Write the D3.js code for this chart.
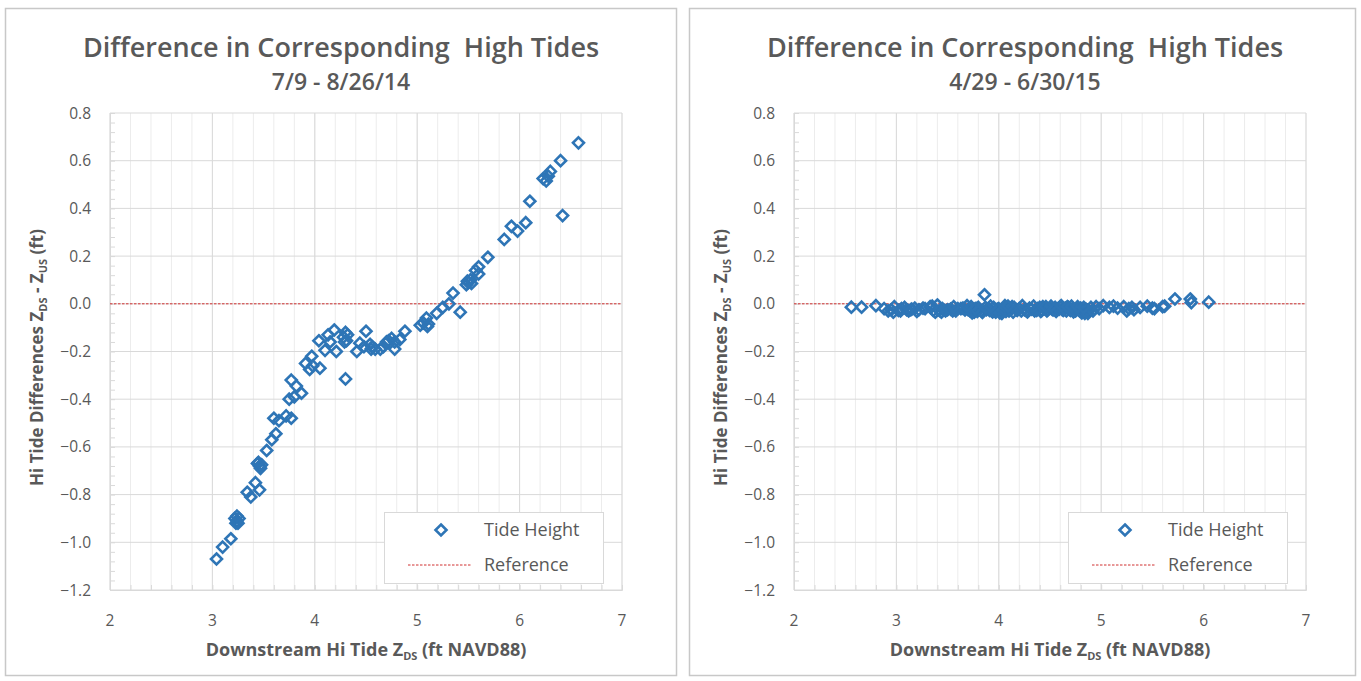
<!DOCTYPE html>
<html>
<head>
<meta charset="utf-8">
<script src="https://cdn.jsdelivr.net/npm/d3@7"></script>
<style>
  body { margin: 0; background: #fff; }
  svg { display: block; font-family: "Open Sans", "Noto Sans", sans-serif; }
</style>
</head>
<body>
<svg id="svg" width="1361" height="681"></svg>
<script>
// chart text
const titleText = 'Difference in Corresponding  High Tides';
const subtitles = ['7/9 - 8/26/14', '4/29 - 6/30/15'];
const xTicks = [2, 3, 4, 5, 6, 7];
const yTicks = [0.8, 0.6, 0.4, 0.2, 0.0, -0.2, -0.4, -0.6, -0.8, -1.0, -1.2];
const legendLabels = ['Tide Height', 'Reference'];

// 2014 survey: downstream hi tide vs difference
const x2014 = [3.04, 3.10, 3.18, 3.22, 3.24, 3.25, 3.23, 3.26, 3.24, 3.34, 3.375, 3.42, 3.46,
  3.44, 3.46, 3.47, 3.45, 3.48, 3.53, 3.58, 3.62, 3.60, 3.65, 3.72, 3.77, 3.75, 3.82, 3.87,
  3.77, 3.80, 3.91, 3.97, 3.95, 4.05, 3.98, 4.04, 4.10, 4.13, 4.19, 4.21, 4.15, 4.28, 4.30,
  4.31, 4.29, 4.32, 4.30, 4.41, 4.44, 4.50, 4.48, 4.54, 4.55, 4.56, 4.59, 4.64, 4.67, 4.70,
  4.72, 4.75, 4.78, 4.83, 4.88, 4.78, 5.03, 5.06, 5.09, 5.10, 5.11, 5.19, 5.25, 5.31, 5.35,
  5.42, 5.48, 5.50, 5.52, 5.53, 5.49, 5.57, 5.60, 5.60, 5.69, 5.85, 5.92, 5.98, 6.06, 6.10,
  6.23, 6.26, 6.28, 6.30, 6.40, 6.42, 6.575];
const y2014 = [-1.07, -1.02, -0.985, -0.90, -0.91, -0.92, -0.92, -0.90, -0.89, -0.79, -0.81, -0.75, -0.78,
  -0.67, -0.68, -0.69, -0.665, -0.675, -0.615, -0.57, -0.545, -0.48, -0.49, -0.47, -0.48, -0.40, -0.345, -0.375,
  -0.32, -0.39, -0.25, -0.22, -0.275, -0.27, -0.26, -0.155, -0.195, -0.13, -0.11, -0.20, -0.16, -0.14, -0.12,
  -0.155, -0.16, -0.13, -0.315, -0.20, -0.165, -0.115, -0.18, -0.17, -0.19, -0.18, -0.19, -0.19, -0.18, -0.16,
  -0.155, -0.145, -0.19, -0.15, -0.115, -0.16, -0.09, -0.08, -0.06, -0.095, -0.085, -0.04, -0.015, 0.0, 0.045,
  -0.035, 0.08, 0.09, 0.10, 0.085, 0.095, 0.14, 0.155, 0.125, 0.195, 0.27, 0.325, 0.305, 0.34, 0.43,
  0.525, 0.515, 0.535, 0.555, 0.60, 0.37, 0.675];

// 2015 survey
const x2015 = [2.56, 2.66, 2.80, 2.88, 2.92, 2.95, 2.98, 3.02, 3.05, 3.08, 3.12, 3.15, 3.18, 3.22,
  3.28, 3.33, 3.38, 3.40, 3.42, 3.45, 3.50, 3.55, 3.60, 3.65, 3.70, 3.72, 3.75, 3.78, 3.80,
  3.83, 3.86, 3.88, 3.90, 3.93, 3.95, 3.98, 4.00, 4.02, 4.05, 4.08, 4.10, 4.12, 4.15, 4.18,
  4.20, 4.25, 4.30, 4.35, 4.38, 4.40, 4.42, 4.45, 4.48, 4.50, 4.52, 4.55, 4.58, 4.60, 4.62,
  4.65, 4.68, 4.70, 4.72, 4.75, 4.78, 4.80, 4.82, 4.85, 4.88, 4.90, 4.95, 5.02, 5.12, 5.22,
  5.27, 5.30, 5.32, 5.45, 5.50, 5.60, 5.72, 5.87, 5.88, 6.05, 3.76, 3.97, 4.03, 4.27, 4.57,
  4.84, 3.10, 3.48, 3.63,
  2.97, 3.04, 3.14, 3.20, 3.26, 3.36, 3.44, 3.53, 3.58, 3.67, 3.74, 3.79, 3.81, 3.84, 3.91,
  3.94, 3.99, 4.01, 4.04, 4.07, 4.11, 4.14, 4.17, 4.22, 4.28, 4.32, 4.37, 4.41, 4.44, 4.47,
  4.53, 4.56, 4.59, 4.63, 4.66, 4.69, 4.73, 4.76, 4.79, 4.81, 4.86, 4.87, 4.92, 4.98, 5.08,
  5.16, 5.25, 5.38, 5.52, 5.62, 3.73, 3.77, 3.87, 3.92, 4.06, 4.13, 4.23, 4.34, 4.43, 4.51,
  4.61, 4.67, 4.71, 4.77, 4.83, 3.35, 3.56, 3.69, 4.09, 4.46];
const y2015 = [-0.014, -0.014, -0.008, -0.02, -0.03, -0.025, -0.012, -0.028, -0.02, -0.015, -0.03, -0.022, -0.018, -0.025,
  -0.02, -0.012, -0.035, -0.005, -0.028, -0.02, -0.025, -0.03, -0.02, -0.018, -0.025, -0.03, -0.028, -0.02, -0.015,
  -0.03, 0.038, -0.025, -0.02, -0.03, -0.015, -0.025, -0.02, -0.03, -0.018, -0.025, -0.03, -0.022, -0.015, -0.028,
  -0.02, -0.025, -0.018, -0.03, -0.02, -0.015, -0.028, -0.02, -0.025, -0.018, -0.022, -0.015, -0.02, -0.012, -0.025,
  -0.018, -0.015, -0.028, -0.02, -0.03, -0.025, -0.018, -0.035, -0.022, -0.028, -0.015, -0.012, -0.008, -0.01, -0.012,
  -0.02, -0.015, -0.025, -0.01, -0.018, -0.012, 0.02, 0.02, 0.005, 0.007, -0.035, -0.035, -0.04, -0.03, -0.022,
  -0.04, -0.025, -0.03, -0.02,
  -0.035, -0.03, -0.025, -0.032, -0.018, -0.028, -0.035, -0.022, -0.03, -0.026, -0.038, -0.032, -0.024, -0.036, -0.028,
  -0.034, -0.022, -0.038, -0.026, -0.032, -0.02, -0.035, -0.025, -0.03, -0.034, -0.022, -0.028, -0.032, -0.02, -0.03,
  -0.026, -0.032, -0.022, -0.028, -0.03, -0.024, -0.034, -0.02, -0.03, -0.038, -0.026, -0.04, -0.03, -0.02, -0.015,
  -0.018, -0.03, -0.015, -0.02, -0.01, -0.012, -0.02, -0.015, -0.01, -0.008, -0.012, -0.008, -0.01, -0.012, -0.01,
  -0.008, -0.012, -0.01, -0.012, -0.015, -0.01, -0.012, -0.008, -0.01, -0.012];

const blue = '#2e75b6';
const red = '#d03030';
const textGray = '#595959';
const gridGray = '#d9d9d9';

const svg = d3.select('#svg');

// panel frames
svg.append('rect').attr('x', 5.5).attr('y', 8.5).attr('width', 671).attr('height', 667)
  .attr('fill', '#fff').attr('stroke', '#c8c8c8').attr('stroke-width', 1.5);
svg.append('rect').attr('x', 689.5).attr('y', 8.5).attr('width', 666).attr('height', 667)
  .attr('fill', '#fff').attr('stroke', '#c8c8c8').attr('stroke-width', 1.5);

function diamond(r) {
  return `M0,${-r}L${r},0L0,${r}L${-r},0Z`;
}

function drawChart(left, xs, ys, subtitle) {
  const top = 113, width = 512, height = 477;
  const g = svg.append('g').attr('transform', `translate(${left},${top})`);

  const xScale = d3.scaleLinear().domain([2, 7]).range([0, width]);
  const yScale = d3.scaleLinear().domain([-1.2, 0.8]).range([height, 0]);

  // minor vertical grid
  g.append('g').selectAll('line')
    .data(d3.range(2, 7.001, 0.2))
    .enter().append('line')
    .attr('x1', d => xScale(d)).attr('x2', d => xScale(d))
    .attr('y1', 0).attr('y2', height)
    .attr('stroke', '#ececec').attr('stroke-width', 1);

  // major grid
  g.append('g').selectAll('line')
    .data(xTicks)
    .enter().append('line')
    .attr('x1', d => xScale(d)).attr('x2', d => xScale(d))
    .attr('y1', 0).attr('y2', height)
    .attr('stroke', gridGray).attr('stroke-width', 1);
  g.append('g').selectAll('line')
    .data(yTicks)
    .enter().append('line')
    .attr('x1', 0).attr('x2', width)
    .attr('y1', d => yScale(d)).attr('y2', d => yScale(d))
    .attr('stroke', gridGray).attr('stroke-width', 1);

  // Y AXIS (minor inside ticks)
  const yAxis = g.append('g')
    .call(d3.axisRight(yScale).tickValues(d3.range(-1.2, 0.8001, 0.04)).tickSize(5).tickFormat(''));
  yAxis.select('.domain').attr('stroke', gridGray);
  yAxis.selectAll('line').attr('stroke', gridGray);

  const xAxis = g.append('g')
    .attr('transform', `translate(0,${height})`)
    .call(d3.axisTop(xScale).tickValues(d3.range(2, 7.001, 0.2)).tickSize(5).tickFormat(''));
  xAxis.select('.domain').attr('stroke', gridGray);
  xAxis.selectAll('line').attr('stroke', gridGray);

  // tick labels
  g.append('g').selectAll('text')
    .data(yTicks)
    .enter().append('text')
    .attr('x', -19).attr('y', d => yScale(d) + 5.5)
    .attr('text-anchor', 'end')
    .attr('font-size', 15.5).attr('fill', textGray)
    .text(d => d3.format('.1f')(d));
  g.append('g').selectAll('text')
    .data(xTicks)
    .enter().append('text')
    .attr('x', d => xScale(d)).attr('y', height + 36)
    .attr('text-anchor', 'middle')
    .attr('font-size', 15.5).attr('fill', textGray)
    .text(d => d);

  // reference line
  g.append('line')
    .attr('x1', xScale(2)).attr('x2', xScale(7))
    .attr('y1', yScale(0)).attr('y2', yScale(0))
    .attr('stroke', red).attr('stroke-width', 1).attr('stroke-dasharray', '2.5,1.5');

  // points
  g.append('g').selectAll('path')
    .data(xs.map((x, i) => ({ x: x, y: ys[i] })))
    .enter().append('path')
    .attr('transform', d => `translate(${xScale(d.x)},${yScale(d.y)})`)
    .attr('d', diamond(5.5))
    .attr('fill', 'none').attr('stroke', blue).attr('stroke-width', 2.6);

  // titles
  g.append('text')
    .attr('x', 231).attr('y', -56)
    .attr('text-anchor', 'middle')
    .attr('font-size', 27).attr('font-weight', 600).attr('fill', textGray)
    .attr('xml:space', 'preserve')
    .text(titleText);
  g.append('text')
    .attr('x', 231).attr('y', -23)
    .attr('text-anchor', 'middle')
    .attr('font-size', 23).attr('font-weight', 600).attr('fill', textGray)
    .text(subtitle);

  // x axis label
  const xl = g.append('text')
    .attr('x', 256).attr('y', height + 66)
    .attr('text-anchor', 'middle')
    .attr('font-size', 18).attr('font-weight', 'bold').attr('fill', textGray);
  xl.append('tspan').text('Downstream Hi Tide Z');
  xl.append('tspan').attr('font-size', 11).attr('dy', 4).text('DS');
  xl.append('tspan').attr('dy', -4).text(' (ft NAVD88)');

  // y axis label
  const yl = g.append('text')
    .attr('transform', `translate(-67,${height / 2 + 6}) rotate(-90)`)
    .attr('text-anchor', 'middle')
    .attr('font-size', 17).attr('font-weight', 'bold').attr('fill', textGray);
  yl.append('tspan').text('Hi Tide Differences Z');
  yl.append('tspan').attr('font-size', 11).attr('dy', 4).text('DS');
  yl.append('tspan').attr('dy', -4).text(' - Z');
  yl.append('tspan').attr('font-size', 11).attr('dy', 4).text('US');
  yl.append('tspan').attr('dy', -4).text('  (ft)');

  // legend
  const lg = g.append('g').attr('transform', `translate(274,${399})`);
  lg.append('rect').attr('x', 0.5).attr('y', 0.5).attr('width', 219).attr('height', 71)
    .attr('fill', '#fff').attr('stroke', gridGray);
  lg.append('path')
    .attr('transform', 'translate(57,18)')
    .attr('d', diamond(5.5))
    .attr('fill', 'none').attr('stroke', blue).attr('stroke-width', 2.6);
  lg.append('line')
    .attr('x1', 24).attr('x2', 88).attr('y1', 53).attr('y2', 53)
    .attr('stroke', red).attr('stroke-width', 1).attr('stroke-dasharray', '2.5,1.5');
  lg.selectAll('.legend-label')
    .data(legendLabels)
    .enter().append('text')
    .attr('class', 'legend-label')
    .attr('x', 100).attr('y', (d, i) => 24 + i * 35)
    .attr('font-size', 18).attr('fill', textGray)
    .text(d => d);
}

drawChart(110, x2014, y2014, subtitles[0]);
drawChart(794, x2015, y2015, subtitles[1]);
</script>
</body>
</html>
